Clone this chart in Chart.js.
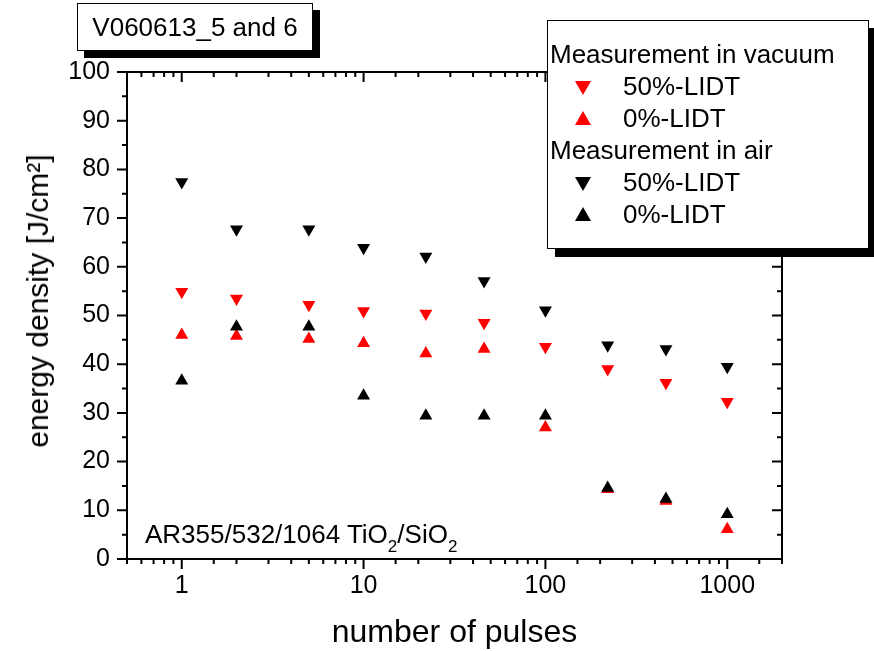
<!DOCTYPE html>
<html>
<head>
<meta charset="utf-8">
<title>LIDT vs number of pulses</title>
<script src="https://cdn.jsdelivr.net/npm/chart.js@4.4.0/dist/chart.umd.min.js"></script>
<style>
  html, body { margin: 0; padding: 0; background: #fff; }
  body { font-family: "Liberation Sans", Arial, sans-serif; color: #000; }
  #wrap { position: relative; width: 874px; height: 651px; overflow: hidden; }
  #chart { position: absolute; left: 0; top: 0; }
  .box { position: absolute; background: #fff; border: 1px solid #000; box-sizing: border-box; }
  #titleBox { left: 77px; top: 3px; width: 236px; height: 48px; box-shadow: 7px 7px 0 #000;
              font-size: 26px; line-height: 46px; text-align: center; white-space: nowrap; }
  #legend { left: 547px; top: 20px; width: 322px; height: 229px; box-shadow: 8px 8px 0 #000;
            font-size: 26px; line-height: 32px; padding: 17px 0 0 2px; white-space: nowrap; }
  #legend .item { position: relative; padding-left: 73px; }
  .mk { position: absolute; left: 25px; width: 0; height: 0;
        border-left: 8px solid transparent; border-right: 8px solid transparent; }
  .mk.down { top: 11px; border-top: 14px solid; }
  .mk.up { top: 9px; border-bottom: 14px solid; }
  .red { color: #ff0000; }
  .black { color: #000; }
  #note { position: absolute; left: 145px; top: 521px; font-size: 26px; line-height: 26px; white-space: nowrap; }
  #note sub { font-size: 17px; vertical-align: -9px; line-height: 0; }
  #yTitle { position: absolute; left: 38px; top: 301px; font-size: 30px; line-height: 1; white-space: nowrap;
            transform: translate(-50%, -50%) rotate(-90deg); }
</style>
</head>
<body>
<div id="wrap">
  <canvas id="chart" width="874" height="651"></canvas>
  <div id="yTitle">energy density [J/cm²]</div>
  <div class="box" id="titleBox">V060613_5 and 6</div>
  <div class="box" id="legend">
    <div>Measurement in vacuum</div>
    <div class="item"><i class="mk down red"></i>50%-LIDT</div>
    <div class="item"><i class="mk up red"></i>0%-LIDT</div>
    <div>Measurement in air</div>
    <div class="item"><i class="mk down black"></i>50%-LIDT</div>
    <div class="item"><i class="mk up black"></i>0%-LIDT</div>
  </div>
  <div id="note">AR355/532/1064 TiO<sub>2</sub>/SiO<sub>2</sub></div>
</div>
<script>
// ==== Data ====
const pulses   = [1, 2, 5, 10, 22, 46, 100, 220, 460, 1000];
const vacuum50 = [54.9, 53.5, 52.2, 50.9, 50.4, 48.5, 43.6, 39.0, 36.2, 32.3];
const vacuum0  = [46.0, 45.8, 45.2, 44.3, 42.2, 43.1, 27.0, 14.3, 11.9, 6.1];
const air50    = [77.4, 67.7, 67.7, 63.9, 62.1, 57.1, 51.1, 43.9, 43.1, 39.5];
const air0     = [36.6, 47.7, 47.7, 33.5, 29.4, 29.4, 29.4, 14.6, 12.3, 9.2];

const xLabels = [1, 10, 100, 1000];
const xMin = 0.5, xMax = 2000;
const yMin = 0, yMax = 100, yStep = 10;

const FONT = '"Liberation Sans", Arial, sans-serif';

const toPoints = (ys) => pulses.map((p, i) => ({ x: p, y: ys[i] }));
const isDecade = (v) => Math.abs(Math.log10(v) - Math.round(Math.log10(v))) < 1e-6;

function series(data, color, down, order) {
  return {
    data: toPoints(data),
    showLine: false,
    pointStyle: 'triangle',
    pointRotation: down ? 180 : 0,
    pointRadius: 7.5,
    pointHoverRadius: 7.5,
    pointBackgroundColor: color,
    pointBorderColor: color,
    pointBorderWidth: 0,
    order
  };
}

// box frame with Origin-style ticks: out on left/bottom, in on top/right
const frame = {
  id: 'frame',
  afterDraw(chart) {
    const { ctx, chartArea: a, scales: { x, y } } = chart;
    ctx.save();
    ctx.strokeStyle = '#000';
    ctx.lineWidth = 2;
    ctx.strokeRect(a.left, a.top, a.right - a.left, a.bottom - a.top);
    ctx.beginPath();
    x.ticks.forEach(t => {
      const px = x.getPixelForValue(t.value);
      const len = isDecade(t.value) ? 10 : 5;
      ctx.moveTo(px, a.bottom); ctx.lineTo(px, a.bottom + len);
      ctx.moveTo(px, a.top);    ctx.lineTo(px, a.top + len);
    });
    for (let v = yMin; v <= yMax; v += yStep / 2) {
      const py = y.getPixelForValue(v);
      const len = v % yStep === 0 ? 10 : 5;
      ctx.moveTo(a.left, py);  ctx.lineTo(a.left - len, py);
      ctx.moveTo(a.right, py); ctx.lineTo(a.right - len, py);
    }
    ctx.stroke();
    ctx.restore();
  }
};

Chart.defaults.color = '#000';
Chart.defaults.font.family = FONT;

new Chart(document.getElementById('chart'), {
  type: 'scatter',
  data: {
    datasets: [
      series(vacuum50, '#ff0000', true, 1),
      series(vacuum0, '#ff0000', false, 1),
      series(air50, '#000000', true, 0),
      series(air0, '#000000', false, 0)
    ]
  },
  options: {
    responsive: false,
    animation: false,
    devicePixelRatio: 1,
    layout: { padding: { left: 0, top: 72, right: 92, bottom: 0 } },
    plugins: { legend: { display: false }, tooltip: { enabled: false } },
    scales: {
      x: {
        type: 'logarithmic',
        min: xMin, max: xMax,
        grid: { display: false, drawTicks: false },
        border: { display: false },
        ticks: {
          autoSkip: false, maxRotation: 0, padding: 12,
          font: { size: 25 },
          callback: (v) => xLabels.includes(v) ? String(v) : ''
        },
        title: { display: true, text: 'number of pulses', font: { size: 32, lineHeight: 1.1 }, padding: { top: 0, bottom: 0 } },
        afterFit: (s) => { s.height = 92; }
      },
      y: {
        min: yMin, max: yMax,
        grid: { display: false, drawTicks: false },
        border: { display: false },
        ticks: { stepSize: yStep, padding: 17, font: { size: 25 } },
        afterFit: (s) => { s.width = 127; }
      }
    }
  },
  plugins: [frame]
});
</script>
</body>
</html>
